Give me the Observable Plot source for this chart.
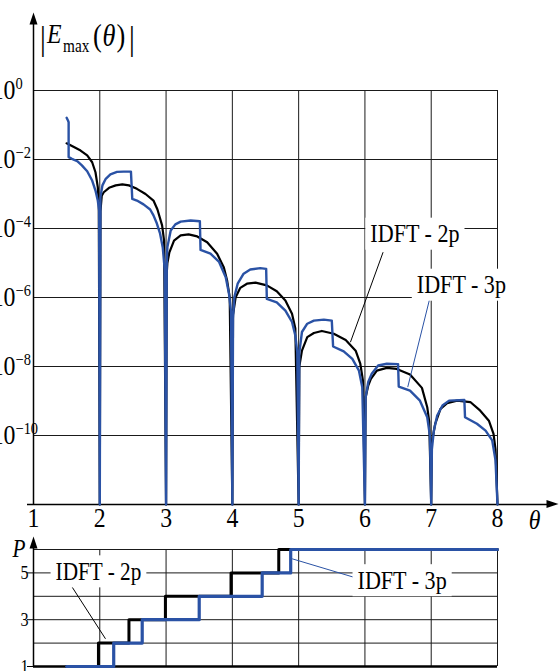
<!DOCTYPE html>
<html>
<head>
<meta charset="utf-8">
<script src="https://cdn.jsdelivr.net/npm/d3@7"></script>
<script src="https://cdn.jsdelivr.net/npm/@observablehq/plot@0.6"></script>
<style>
html, body { margin: 0; padding: 0; background: #fff; }
#chart { position: relative; width: 560px; height: 671px; overflow: hidden; background: #fff; }
#chart svg { position: absolute; left: 0; }
</style>
</head>
<body>
<div id="chart"></div>
<script>
// Peak field magnitude |E_max(θ)| (as log10) for the two IDFT variants
const theta2p = [1.5, 1.61, 1.71, 1.81, 1.885, 1.935, 1.97, 1.985, 2.0,
  2.01, 2.03, 2.06, 2.14, 2.24, 2.34, 2.44, 2.56, 2.69, 2.81, 2.87, 2.94, 2.97, 3.0,
  3.01, 3.02, 3.05, 3.12, 3.22, 3.34, 3.47, 3.62, 3.77, 3.87, 3.92, 3.96, 4.0,
  4.01, 4.05, 4.12, 4.22, 4.35, 4.52, 4.67, 4.8, 4.9, 4.95, 5.0,
  5.01, 5.05, 5.13, 5.23, 5.35, 5.53, 5.71, 5.86, 5.93, 5.97, 6.0,
  6.01, 6.05, 6.09, 6.18, 6.33, 6.48, 6.68, 6.86, 6.94, 6.97, 7.0,
  7.01, 7.06, 7.14, 7.24, 7.39, 7.59, 7.74, 7.87, 7.94, 7.97, 8.0];
const logE2p = [-1.53, -1.64, -1.74, -1.88, -2.08, -2.37, -2.8, -3.28, -12,
  -3.5, -3.05, -2.95, -2.82, -2.75, -2.72, -2.75, -2.85, -3.0, -3.19, -3.45, -3.91, -4.35, -12,
  -5.3, -5.0, -4.69, -4.35, -4.2, -4.17, -4.23, -4.4, -4.73, -5.12, -5.5, -6.0, -12,
  -6.5, -5.99, -5.72, -5.6, -5.57, -5.65, -5.82, -6.09, -6.47, -6.9, -12,
  -8.0, -7.54, -7.15, -7.03, -6.97, -7.05, -7.23, -7.54, -7.92, -8.4, -12,
  -8.9, -8.55, -8.36, -8.12, -8.04, -8.07, -8.23, -8.62, -9.18, -9.6, -12,
  -10.2, -9.66, -9.23, -9.06, -8.99, -9.03, -9.28, -9.57, -9.95, -10.4, -12];

const theta3p = [1.5, 1.52, 1.53, 1.53, 1.58, 1.66, 1.73, 1.81, 1.885, 1.935, 1.97, 1.99, 2.0,
  2.01, 2.04, 2.09, 2.16, 2.26, 2.36, 2.47, 2.49, 2.56, 2.66, 2.76, 2.81, 2.86, 2.91, 2.95, 2.98, 3.0,
  3.01, 3.02, 3.07, 3.14, 3.22, 3.37, 3.51, 3.52, 3.67, 3.8, 3.9, 3.95, 3.98, 4.0,
  4.01, 4.03, 4.08, 4.17, 4.27, 4.42, 4.51, 4.52, 4.67, 4.8, 4.9, 4.95, 4.98, 5.0,
  5.01, 5.05, 5.13, 5.23, 5.38, 5.5, 5.52, 5.68, 5.81, 5.91, 5.96, 6.0,
  6.01, 6.05, 6.1, 6.2, 6.33, 6.5, 6.51, 6.68, 6.83, 6.94, 6.98, 7.0,
  7.01, 7.04, 7.09, 7.17, 7.27, 7.5, 7.51, 7.69, 7.82, 7.92, 7.97, 8.0];
const logE3p = [-0.79, -0.87, -0.92, -1.93, -1.98, -2.05, -2.17, -2.34, -2.61, -2.9, -3.19, -3.48, -12,
  -3.09, -2.75, -2.56, -2.43, -2.36, -2.35, -2.35, -3.14, -3.19, -3.3, -3.45, -3.62, -3.85, -4.15, -4.55, -5.2, -12,
  -5.0, -4.54, -4.06, -3.88, -3.8, -3.77, -3.79, -4.62, -4.73, -4.97, -5.41, -5.9, -6.4, -12,
  -6.6, -5.99, -5.6, -5.31, -5.19, -5.15, -5.17, -6.04, -6.14, -6.38, -6.71, -7.1, -7.6, -12,
  -7.6, -7.0, -6.76, -6.67, -6.64, -6.67, -7.42, -7.56, -7.78, -8.12, -8.6, -12,
  -8.9, -8.45, -8.22, -7.97, -7.92, -7.93, -8.58, -8.7, -8.99, -9.47, -10.0, -12,
  -10.4, -9.86, -9.42, -9.13, -8.99, -8.97, -9.47, -9.66, -9.86, -10.14, -10.72, -12];

// Number of points P used along θ
const stepTheta2p = [1.5, 1.98, 2.44, 2.99, 3.98, 4.70, 8];
const stepP2p = [1, 2, 3, 4, 5, 6, 6];
const stepTheta3p = [1.5, 2.21, 2.64, 3.5, 4.45, 4.88, 8];
const stepP3p = [1, 2, 3, 4, 5, 6, 6];

// Axis ticks and labels
const thetaTicks = [1, 2, 3, 4, 5, 6, 7, 8];
const decadeExponents = [0, -2, -4, -6, -8, -10];
const pTicks = [1, 3, 5];
const pGrid = [2, 3, 4, 5, 6];
const seriesLabels = ["IDFT - 2p", "IDFT - 3p"];

const serif = '"Liberation Serif", "Times New Roman", serif';
const blue = "#2a52a5";
const squeeze = 0.85;

const curve2p = theta2p.map((t, i) => ({theta: t, E: 10 ** logE2p[i]}));
const curve3p = theta3p.map((t, i) => ({theta: t, E: 10 ** logE3p[i]}));
const steps2p = stepTheta2p.map((t, i) => ({theta: t, P: stepP2p[i]}));
const steps3p = stepTheta3p.map((t, i) => ({theta: t, P: stepP3p[i]}));

// Filled, slender arrowhead pointing up (rotated for the θ axis)
const arrowHead = {draw(ctx) { ctx.moveTo(0, -7); ctx.lineTo(4, 5); ctx.lineTo(-4, 5); ctx.closePath(); }};

const upper = Plot.plot({
  width: 560, height: 530,
  marginLeft: 33, marginRight: 63, marginTop: 90, marginBottom: 26,
  x: {domain: [1, 8], axis: null},
  y: {type: "log", domain: [1e-12, 1], axis: null},
  style: {fontFamily: serif, background: "transparent", overflow: "visible", color: "#000"},
  marks: [
    Plot.ruleY(decadeExponents.map(e => 10 ** e), {stroke: "#1a1a1a", strokeWidth: 1}),
    Plot.ruleX(thetaTicks.slice(1), {stroke: "#1a1a1a", strokeWidth: 1}),
    Plot.ruleY([1e-12], {stroke: "#000", strokeWidth: 1.5, insetLeft: -6, insetRight: -50}),
    Plot.ruleX([1], {stroke: "#000", strokeWidth: 1.5, insetTop: -66, insetBottom: -1}),
    Plot.dot([0], {frameAnchor: "top-left", dy: -71, symbol: arrowHead, fill: "#000", stroke: "none"}),
    Plot.dot([0], {frameAnchor: "bottom-right", dx: 54, dy: -0.5, rotate: 90, symbol: arrowHead, fill: "#000", stroke: "none"}),
    Plot.line(curve2p, {x: "theta", y: "E", stroke: "#000", strokeWidth: 2.2}),
    Plot.line(curve3p, {x: "theta", y: "E", stroke: blue, strokeWidth: 2.4}),
    Plot.text(thetaTicks, {x: d => d, frameAnchor: "bottom", dy: 22, text: d => String(d), fontSize: 28}),
    Plot.text(["θ"], {frameAnchor: "bottom-right", dx: 43, dy: 24, text: d => d, fontSize: 28, fontStyle: "italic"}),
    Plot.text(decadeExponents, {y: e => 10 ** e, frameAnchor: "left", dx: -18, textAnchor: "end", text: () => "10", fontSize: 28}),
    Plot.text(decadeExponents, {y: e => 10 ** e, frameAnchor: "left", dx: -18, dy: -7, textAnchor: "start",
      text: e => (e === 0 ? "0" : "\u2212" + (-e)), fontSize: 17}),
    Plot.link([0], {x1: 6.274, y1: 10 ** -4.687, x2: 5.781, y2: 10 ** -7.296, stroke: "#000", strokeWidth: 1}),
    Plot.link([0], {x1: 6.973, y1: 10 ** -6.067, x2: 6.646, y2: 10 ** -8.597, stroke: blue, strokeWidth: 1}),
    Plot.text([seriesLabels[0]], {x: 6.754, y: 10 ** -4.159, text: d => d, fontSize: 26}),
    Plot.text([seriesLabels[1]], {x: 7.455, y: 10 ** -5.638, text: d => d, fontSize: 26})
  ]
});

const lower = Plot.plot({
  width: 560, height: 141,
  marginLeft: 33, marginRight: 63, marginTop: 19, marginBottom: 5,
  x: {domain: [1, 8], axis: null},
  y: {domain: [1, 6], axis: null},
  style: {fontFamily: serif, background: "transparent", overflow: "visible", color: "#000"},
  marks: [
    Plot.ruleY(pGrid, {stroke: "#1a1a1a", strokeWidth: 1}),
    Plot.ruleX(thetaTicks.slice(1), {stroke: "#1a1a1a", strokeWidth: 1}),
    Plot.ruleY(pTicks, {x1: 1, x2: 1, insetLeft: -6, stroke: "#000", strokeWidth: 1}),
    Plot.ruleY([1], {stroke: "#000", strokeWidth: 2.5}),
    Plot.ruleX([1], {stroke: "#000", strokeWidth: 1.5, insetTop: -8}),
    Plot.dot([0], {frameAnchor: "top-left", dy: -6, symbol: arrowHead, fill: "#000", stroke: "none"}),
    Plot.line(steps2p, {x: "theta", y: "P", curve: "step-after", stroke: "#000", strokeWidth: 3}),
    Plot.line(steps3p, {x: "theta", y: "P", curve: "step-after", stroke: blue, strokeWidth: 3.2}),
    Plot.text(pTicks, {y: d => d, frameAnchor: "left", dx: -5, textAnchor: "end", text: d => String(d), fontSize: 19}),
    Plot.text(["P"], {frameAnchor: "top-left", dx: -21, dy: -10, text: d => d, fontSize: 25, fontStyle: "italic"}),
    Plot.link([0], {x1: 1.584, y1: 4.389, x2: 2.086, y2: 2.184, stroke: "#000", strokeWidth: 1}),
    Plot.link([0], {x1: 5.831, y1: 4.816, x2: 4.902, y2: 5.603, stroke: blue, strokeWidth: 1}),
    Plot.text([seriesLabels[0]], {x: 1.98, y: 5.04, text: d => d, fontSize: 25}),
    Plot.text([seriesLabels[1]], {x: 6.561, y: 4.675, text: d => d, fontSize: 26})
  ]
});

const chart = document.getElementById("chart");
upper.style.top = "0px";
lower.style.top = "530px";
chart.append(upper, lower);

// Narrow serif lettering
function squeezeText(svg) {
  svg.querySelectorAll("text").forEach(t => {
    const tr = t.getAttribute("transform");
    if (tr) t.setAttribute("transform", tr + ` scale(${squeeze},1)`);
    else {
      const x = +(t.getAttribute("x") || 0);
      t.setAttribute("x", x / squeeze);
      t.setAttribute("transform", `scale(${squeeze},1)`);
    }
  });
}

// White boxes behind the series callouts
function boxCallouts(svg, padX, padY) {
  const origin = svg.getBoundingClientRect();
  svg.querySelectorAll("text").forEach(t => {
    if (!seriesLabels.includes(t.textContent)) return;
    const b = t.getBoundingClientRect();
    const rect = document.createElementNS("http://www.w3.org/2000/svg", "rect");
    rect.setAttribute("x", b.left - origin.left - padX);
    rect.setAttribute("y", b.top - origin.top - padY);
    rect.setAttribute("width", b.width + 2 * padX);
    rect.setAttribute("height", b.height + 2 * padY);
    rect.setAttribute("fill", "#fff");
    const g = t.parentNode;
    g.parentNode.insertBefore(rect, g);
  });
}

[upper, lower].forEach(svg => { squeezeText(svg); boxCallouts(svg, 5, 2); });

// Ordinate title |E_max(θ)|: bars, E with subscript, and the argument (θ)
const titleGroup = d3.select(upper).append("g")
  .attr("font-family", serif)
  .attr("text-anchor", "start")
  .attr("fill", "#000");
const place = (x, y, size) => titleGroup.append("text")
  .attr("transform", `translate(${x},${y}) scale(${squeeze},1)`)
  .attr("font-size", size);
place(40, 50, 34).text("|");
place(47, 43, 28).attr("font-style", "italic").text("E");
place(63, 52, 18).text("max");
const arg = place(93, 46, 31);
arg.append("tspan").text("(");
arg.append("tspan").attr("font-style", "italic").attr("dx", 1).text("θ");
arg.append("tspan").attr("dx", 1).text(")");
place(129, 50, 34).text("|");
</script>
</body>
</html>
